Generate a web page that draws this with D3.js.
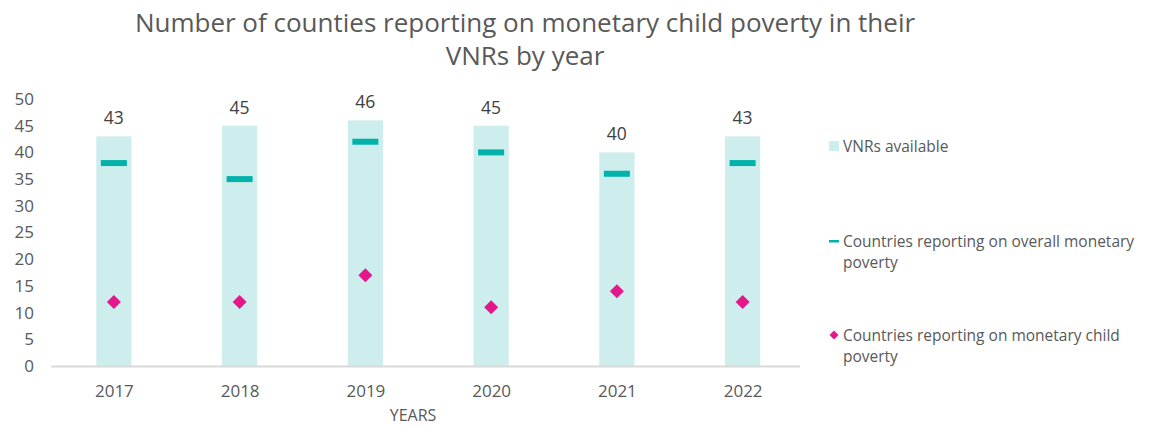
<!DOCTYPE html>
<html>
<head>
<meta charset="utf-8">
<script src="https://cdn.jsdelivr.net/npm/d3@7"></script>
<style>
  html, body { margin: 0; padding: 0; background: #fff; }
  svg { display: block; font-family: "Open Sans", sans-serif; }
</style>
</head>
<body>
<svg id="chart" width="1157" height="426"></svg>
<script>
// Data
const years = ["2017", "2018", "2019", "2020", "2021", "2022"];
const vnrsAvailable = [43, 45, 46, 45, 40, 43];
const overallMonetary = [38, 35, 42, 40, 36, 38];
const childMonetary = [12, 12, 17, 11, 14, 12];
const yTicks = [0, 5, 10, 15, 20, 25, 30, 35, 40, 45, 50];
const titleLines = ["Number of counties reporting on monetary child poverty in their", "VNRs by year"];
const legendItems = [
  { key: "bar", lines: ["VNRs available"] },
  { key: "dash", lines: ["Countries reporting on overall monetary", "poverty"] },
  { key: "diamond", lines: ["Countries reporting on monetary child", "poverty"] }
];

const colors = { bar: "#cdeeed", dash: "#00b2a9", diamond: "#e3198b", text: "#595959", label: "#404040", axis: "#d9d9d9" };

const svg = d3.select("#chart");

// Scales
const plot = { left: 51, right: 800, top: 99, bottom: 366 };
const x = d3.scalePoint().domain(years).range([plot.left, 805.5]).padding(0.5);
const y = d3.scaleLinear().domain([0, 50]).range([plot.bottom, plot.top]);
const barW = x.step() * 0.28;
const dashW = 26, dashH = 6;

// Title, one text element per line
svg.append("g").selectAll("text").data(titleLines).join("text")
  .attr("x", 525)
  .attr("y", (d, i) => 32 + i * 33)
  .attr("text-anchor", "middle")
  .attr("fill", colors.text)
  .style("font-size", "26px")
  .text(d => d);

// Bars
const rows = years.map((yr, i) => ({ yr, vnr: vnrsAvailable[i], overall: overallMonetary[i], child: childMonetary[i] }));

svg.append("g").selectAll("rect").data(rows).join("rect")
  .attr("x", d => x(d.yr) - barW / 2)
  .attr("y", d => y(d.vnr))
  .attr("width", barW)
  .attr("height", d => y(0) - y(d.vnr))
  .attr("fill", colors.bar);

// Bar value labels
svg.append("g").selectAll("text").data(rows).join("text")
  .attr("x", d => x(d.yr))
  .attr("y", d => y(d.vnr) - 12)
  .attr("text-anchor", "middle")
  .attr("fill", colors.label)
  .style("font-size", "17.5px")
  .text(d => d.vnr);

// Overall monetary poverty dashes
svg.append("g").selectAll("rect").data(rows).join("rect")
  .attr("x", d => x(d.yr) - dashW / 2)
  .attr("y", d => y(d.overall) - dashH / 2)
  .attr("width", dashW)
  .attr("height", dashH)
  .attr("fill", colors.dash);

// Child monetary poverty diamonds
const diamond = d3.symbol().type(d3.symbolSquare).size(98);
svg.append("g").selectAll("path").data(rows).join("path")
  .attr("d", diamond)
  .attr("transform", d => `translate(${x(d.yr)},${y(d.child)}) rotate(45)`)
  .attr("fill", colors.diamond);

// Y axis (labels only)
const yAxis = d3.axisLeft(y).tickValues(yTicks).tickSize(0).tickPadding(0);
const gy = svg.append("g").attr("transform", "translate(34,0)").call(yAxis);
gy.select(".domain").remove();
gy.selectAll("text").attr("fill", colors.text).style("font-size", "17px").style("font-family", "Open Sans, sans-serif");

// X axis
const xAxis = d3.axisBottom(x).tickSize(0).tickPadding(0);
const gx = svg.append("g").attr("transform", `translate(0,${plot.bottom})`).call(xAxis);
gx.select(".domain").remove();
gx.selectAll("text").attr("fill", colors.text).attr("dy", null).attr("y", 31)
  .style("font-size", "17px").style("font-family", "Open Sans, sans-serif");
svg.append("line")
  .attr("x1", plot.left).attr("x2", plot.right)
  .attr("y1", plot.bottom + 0.5).attr("y2", plot.bottom + 0.5)
  .attr("stroke", colors.axis).attr("stroke-width", 2);

svg.append("text")
  .attr("x", 413).attr("y", 421)
  .attr("text-anchor", "middle")
  .attr("fill", colors.text)
  .style("font-size", "16px")
  .text("YEARS");

// Legend
const legendY = [146, 241, 335];
const lg = svg.append("g").selectAll("g").data(legendItems).join("g")
  .attr("transform", (d, i) => `translate(829,${legendY[i]})`);

lg.filter(d => d.key === "bar").append("rect")
  .attr("x", 0).attr("y", -5).attr("width", 10).attr("height", 10).attr("fill", colors.bar);
lg.filter(d => d.key === "dash").append("rect")
  .attr("x", 0).attr("y", -1).attr("width", 10).attr("height", 2.5).attr("fill", colors.dash);
lg.filter(d => d.key === "diamond").append("path")
  .attr("d", d3.symbol().type(d3.symbolSquare).size(40))
  .attr("transform", "translate(5,0) rotate(45)")
  .attr("fill", colors.diamond);

lg.append("text")
  .attr("fill", colors.text)
  .style("font-size", "15.5px")
  .selectAll("tspan").data(d => d.lines).join("tspan")
  .attr("x", 14)
  .attr("y", (d, i) => 5.5 + i * 21)
  .text(d => d);
</script>
</body>
</html>
